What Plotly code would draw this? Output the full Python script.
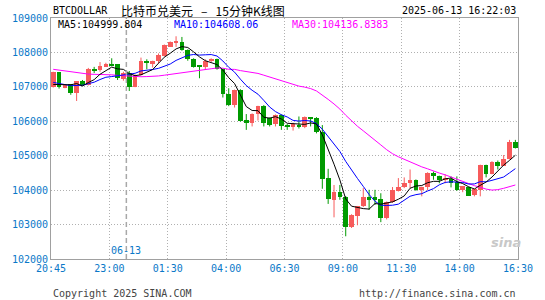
import plotly.graph_objects as go

# ---------------- data ----------------
x_labels = ["20:45", "23:00", "01:30", "04:00", "06:30", "09:00", "11:30", "14:00", "16:30"]
y_ticks = [102000, 103000, 104000, 105000, 106000, 107000, 108000, 109000]

opens = [107000, 107420, 106970, 107070, 106830, 107170, 107060, 107510, 107500, 107590,
         107650, 107650, 107230, 107410, 107010, 107340, 107760, 107650, 107740, 107890,
         108170, 108290, 108310, 108070, 107800, 107620, 107570, 107740, 107810, 107510,
         106780, 106470, 106910, 106040, 105960, 106210, 106440, 106090, 105910, 106180,
         105890, 105840, 105880, 105820, 106110, 106100, 105680, 104360, 103720, 103940,
         103810, 102920, 103260, 103530, 103800, 103790, 103750, 103180, 103660, 103980,
         104090, 104200, 104300, 103990, 104080, 104510, 104410, 104300, 104320, 104250,
         103990, 104090, 103850, 103990, 104730, 104470, 104830, 104710, 104900, 105410]
highs = [107440, 107430, 107070, 107080, 107170, 107200, 107550, 107580, 107720, 107700,
         107830, 107660, 107440, 107460, 107360, 107850, 107800, 107760, 107970, 108230,
         108320, 108470, 108450, 108090, 107830, 107630, 107800, 107830, 107820, 107530,
         106960, 106920, 106930, 106210, 106230, 106450, 106470, 106110, 106200, 106200,
         105920, 105960, 106140, 106140, 106120, 106120, 105890, 104620, 104150, 104150,
         103830, 103300, 103540, 104060, 104010, 104010, 103910, 103670, 104090, 104350,
         104370, 104600, 104310, 104100, 104520, 104540, 104420, 104460, 104400, 104400,
         104120, 104100, 104040, 104740, 104740, 104840, 104860, 105020, 105460, 105460]
lows = [106980, 106950, 106960, 106770, 106590, 107030, 107040, 107400, 107440, 107580,
        107600, 107200, 107180, 106880, 106990, 107330, 107510, 107560, 107680, 107880,
        108160, 108160, 108050, 107760, 107560, 107250, 107490, 107720, 107500, 106690,
        106440, 106400, 105990, 105750, 105850, 106020, 105850, 105850, 105850, 105750,
        105750, 105730, 105790, 105800, 105850, 105650, 104040, 103600, 103210, 103720,
        102660, 102900, 102980, 103510, 103430, 103570, 103070, 103150, 103630, 103960,
        104060, 104060, 103980, 103820, 104000, 104300, 104200, 104200, 104080, 103980,
        103940, 103830, 103820, 103820, 104370, 104460, 104600, 104700, 104890, 105210]
closes = [107420, 107000, 107060, 106830, 107170, 107060, 107510, 107480, 107610, 107650,
          107620, 107250, 107410, 107010, 107340, 107740, 107680, 107740, 107930, 108220,
          108310, 108310, 108070, 107810, 107580, 107580, 107760, 107810, 107510, 106780,
          106470, 106910, 106020, 105960, 106210, 106440, 105950, 105900, 106170, 105870,
          105820, 105920, 105820, 106120, 106080, 105680, 104330, 103740, 103940, 103790,
          102920, 103280, 103530, 103800, 103720, 103720, 103190, 103660, 104010, 104100,
          104200, 104300, 103990, 104080, 104510, 104400, 104300, 104350, 104200, 103990,
          104110, 103840, 104030, 104730, 104470, 104830, 104710, 104900, 105410, 105220]
# closes before the visible window (estimated from where the MA lines start)
prior_closes = [107700, 107800, 107850, 107750, 107900, 107800, 107700, 107650, 107800, 107850,
                107750, 107700, 107720, 107650, 107600, 107550, 107620, 107500, 107560, 107550,
                107400, 107300, 107150, 107050, 107050, 107050, 107060, 106830, 106990]

ma_labels = ["MA5:104999.804", "MA10:104608.06", "MA30:104136.8383"]

# ---------------- styling ----------------
RED = "#f75b5b"
GREEN = "#009a00"
BLUE_TXT = "#0a78c8"
MONO = "DejaVu Sans Mono"

n = len(closes)
xs = list(range(n))
all_c = prior_closes + closes
off = len(prior_closes)


def ma(k):
    return [sum(all_c[off + i - k + 1: off + i + 1]) / k for i in range(n)]


fig = go.Figure()

# wicks
for col, sel in ((RED, lambda i: closes[i] >= opens[i]), (GREEN, lambda i: closes[i] < opens[i])):
    wx, wy = [], []
    for i in xs:
        if sel(i):
            wx += [i, i, None]
            wy += [lows[i], highs[i], None]
    fig.add_trace(go.Scatter(x=wx, y=wy, mode="lines", line=dict(color=col, width=1),
                             hoverinfo="skip"))

# bodies
for col, sel in ((RED, lambda i: closes[i] >= opens[i]), (GREEN, lambda i: closes[i] < opens[i])):
    idx = [i for i in xs if sel(i)]
    fig.add_trace(go.Bar(
        x=idx,
        base=[min(opens[i], closes[i]) for i in idx],
        y=[max(abs(closes[i] - opens[i]), 30) for i in idx],
        width=0.8, marker=dict(color=col, line=dict(width=0))))

# moving averages
for k, col in ((30, "#ff00ff"), (10, "#0000ff"), (5, "#000000")):
    fig.add_trace(go.Scatter(x=xs, y=ma(k), mode="lines", line=dict(color=col, width=1)))

x0, x1 = -0.38, 79.45
step = (x1 - x0) / 8
tickpos = [x0 + step * k for k in range(len(x_labels))]

fig.update_layout(
    width=545, height=300,
    margin=dict(l=50, r=16, t=18, b=41),
    paper_bgcolor="white", plot_bgcolor="white",
    showlegend=False, barmode="overlay", bargap=0,
    font=dict(family=MONO, size=10, color="#000"),
)
fig.update_xaxes(range=[x0, x1], tickvals=tickpos, ticktext=x_labels,
                 showgrid=True, gridcolor="#b0b0b0", griddash="1px,2px", gridwidth=1,
                 showline=True, linecolor="#a0a0a0", linewidth=1, mirror=True,
                 zeroline=False, ticks="", tickfont=dict(family=MONO, size=10, color=BLUE_TXT))
fig.update_yaxes(range=[102000, 109000], tickvals=y_ticks, ticktext=[str(v) for v in y_ticks],
                 showgrid=True, gridcolor="#b0b0b0", griddash="1px,2px", gridwidth=1,
                 showline=True, linecolor="#a0a0a0", linewidth=1, mirror=True,
                 zeroline=False, ticks="", tickfont=dict(family=MONO, size=10, color=BLUE_TXT))

# day separator
fig.add_shape(type="line", xref="x", yref="paper", x0=12.5, x1=12.5, y0=0, y1=1,
              line=dict(color="#a8a8a8", width=1.5, dash="5px,3px"))

ann = [
    dict(text="BTCDOLLAR", x=0, y=1.03, xanchor="left", font=dict(family=MONO, size=10, color="#000")),
    dict(text="比特币兑美元&nbsp;&nbsp;&nbsp;–&nbsp;&nbsp;&nbsp;15分钟K线图", x=0.146, y=1.03, xanchor="left",
         font=dict(family="Noto Sans CJK SC", size=12, color="#000")),
    dict(text="2025-06-13 16:22:03", x=1, y=1.03, xanchor="right", font=dict(family=MONO, size=10, color="#000")),
    dict(text=ma_labels[0], x=0.0104, y=0.971, xanchor="left", font=dict(family=MONO, size=10, color="#000")),
    dict(text=ma_labels[1], x=0.26, y=0.971, xanchor="left", font=dict(family=MONO, size=10, color="#0000ff")),
    dict(text=ma_labels[2], x=0.5115, y=0.971, xanchor="left", font=dict(family=MONO, size=10, color="#ff00ff")),
    dict(text="Copyright 2025 SINA.COM", x=0, y=-0.145, xanchor="left", font=dict(family=MONO, size=10, color="#444")),
    dict(text="http://finance.sina.com.cn", x=1, y=-0.145, xanchor="right", font=dict(family=MONO, size=10, color="#444")),
    dict(text="<i><b>sina</b></i>", x=0.975, y=0.07, xanchor="center",
         font=dict(family="DejaVu Sans", size=13, color="#c8c8c8")),
]
for a in ann:
    fig.add_annotation(xref="paper", yref="paper", yanchor="middle", showarrow=False, **a)
fig.add_annotation(text="06-13", xref="x", yref="paper", x=12.5, y=0.037, xanchor="center",
                   yanchor="middle", showarrow=False, font=dict(family=MONO, size=10, color=BLUE_TXT))

fig.write_html("out.html")
